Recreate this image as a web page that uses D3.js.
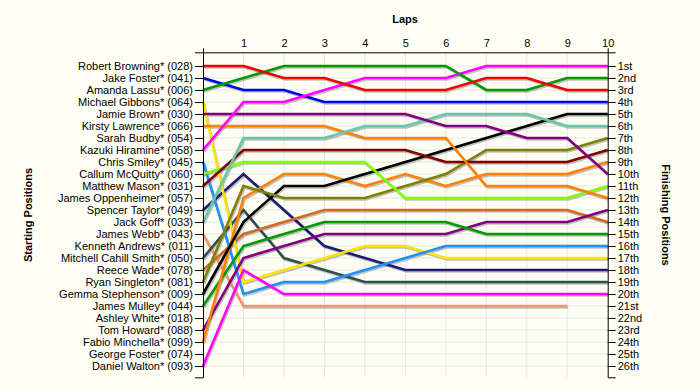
<!DOCTYPE html>
<html>
<head>
<meta charset="utf-8">
<script src="https://cdn.jsdelivr.net/npm/d3@7"></script>
<style>
    body { margin: 0; background: #fefef4; }
    svg { display: block; font-family: "Liberation Sans", Arial, sans-serif; }
</style>
</head>
<body>
<svg id="chart" width="700" height="390"></svg>
<script>
"use strict";

// starting grid, top to bottom
let drivers = [
    "Robert Browning* (028)", "Jake Foster* (041)", "Amanda Lassu* (006)",
    "Michael Gibbons* (064)", "Jamie Brown* (030)", "Kirsty Lawrence* (066)",
    "Sarah Budby* (054)", "Kazuki Hiramine* (058)", "Chris Smiley* (045)",
    "Callum McQuitty* (060)", "Matthew Mason* (031)", "James Oppenheimer* (057)",
    "Spencer Taylor* (049)", "Jack Goff* (033)", "James Webb* (043)",
    "Kenneth Andrews* (011)", "Mitchell Cahill Smith* (050)", "Reece Wade* (078)",
    "Ryan Singleton* (081)", "Gemma Stephenson* (009)", "James Mulley* (044)",
    "Ashley White* (018)", "Tom Howard* (088)", "Fabio Minchella* (099)",
    "George Foster* (074)", "Daniel Walton* (093)"
];

let finishLabels = [
    "1st", "2nd", "3rd", "4th", "5th", "6th", "7th", "8th", "9th", "10th",
    "11th", "12th", "13th", "14th", "15th", "16th", "17th", "18th", "19th", "20th",
    "21st", "22nd", "23rd", "24th", "25th", "26th"
];

let laps = [1, 2, 3, 4, 5, 6, 7, 8, 9, 10];

// position at lap 0 (grid) .. lap 10
let browning  = [1, 1, 2, 2, 3, 3, 3, 2, 2, 3, 3];
let jfoster   = [2, 3, 3, 4, 4, 4, 4, 4, 4, 4, 4];
let lassu     = [3, 2, 1, 1, 1, 1, 1, 3, 3, 2, 2];
let gibbons   = [4, 19, 18, 17, 16, 16, 17, 17, 17, 17, 17];
let brown     = [5, 5, 5, 5, 5, 5, 6, 6, 7, 7, 10];
let lawrence  = [6, 6, 6, 6, 7, 7, 7, 11, 11, 11, 12];
let hiramine  = [8, 4, 4, 3, 2, 2, 2, 1, 1, 1, 1];
let smiley    = [9, 20, 19, 19, 18, 17, 16, 16, 16, 16, 16];
let mcquitty  = [10, 9, 9, 9, 9, 12, 12, 12, 12, 12, 11];
let mason     = [11, 8, 8, 8, 8, 8, 9, 9, 9, 9, 8];
let taylor    = [13, 10, 13, 16, 17, 18, 18, 18, 18, 18, 18];
let goff      = [14, 7, 7, 7, 6, 6, 5, 5, 5, 6, 6];
let webb      = [15, 21, 21, 21, 21, 21, 21, 21, 21, 21];
let cahill    = [17, 13, 17, 18, 19, 19, 19, 19, 19, 19, 19];
let wade      = [18, 15, 14, 13, 13, 13, 13, 13, 13, 13, 14];
let singleton = [19, 11, 12, 12, 12, 11, 10, 8, 8, 8, 7];
let stephenson = [20, 14, 11, 11, 10, 9, 8, 7, 6, 5, 5];
let mulley    = [21, 16, 15, 14, 14, 14, 14, 15, 15, 15, 15];
let howard    = [23, 17, 16, 15, 15, 15, 15, 14, 14, 14, 13];
let minchella = [24, 12, 10, 10, 11, 10, 11, 10, 10, 10, 9];
let walton    = [26, 18, 20, 20, 20, 20, 20, 20, 20, 20, 20];

let series = [webb, cahill, taylor, wade, gibbons, smiley, walton, howard, mulley,
    minchella, stephenson, singleton, mcquitty, mason, lawrence, goff, brown,
    jfoster, hiramine, lassu, browning];
let seriesColors = ["#f4946e", "#2f4f4f", "#1c1c72", "#d2691e", "#ffe400", "#1e90ff",
    "#ff00ff", "#800080", "#009a00", "#ff8000", "#000000", "#808000", "#80ff00",
    "#800000", "#ff8000", "#66c8a8", "#800080", "#0000f0", "#ff00ff", "#009a00", "#f00000"];


let svg = d3.select("#chart");

let x = d3.scaleLinear().domain([0, 10]).range([203, 607.7]);
let y = d3.scaleLinear().domain([-0.14, 26.94]).range([52.3, 377.3]);

// grid
let grid = svg.append("g").attr("stroke", "#e6e6e6").attr("stroke-width", 1);
grid.selectAll("line.h")
    .data(d3.range(1, 27))
    .enter().append("line")
        .attr("class", "h")
        .attr("x1", x(0)).attr("x2", x(10))
        .attr("y1", function(d) { return y(d); })
        .attr("y2", function(d) { return y(d); });
grid.selectAll("line.v")
    .data(laps.slice(0, 9))
    .enter().append("line")
        .attr("class", "v")
        .attr("x1", function(d) { return x(d); })
        .attr("x2", function(d) { return x(d); })
        .attr("y1", y.range()[0]).attr("y2", y.range()[1]);

// lines, each with a soft grey shadow
let line = d3.line()
    .x(function(d, i) { return x(i); })
    .y(function(d) { return y(d); });

let lines = svg.append("g").attr("fill", "none");
lines.selectAll("path.shadow")
    .data(series)
    .enter().append("path")
        .attr("class", "shadow")
        .attr("d", line)
        .attr("transform", "translate(1,1.5)")
        .attr("stroke", "#777")
        .attr("stroke-opacity", 0.45)
        .attr("stroke-width", 2.6);
lines.selectAll("path.pos")
    .data(series)
    .enter().append("path")
        .attr("class", "pos")
        .attr("d", line)
        .attr("stroke", function(d, i) { return seriesColors[i]; })
        .attr("stroke-width", 2.6);

// axes
let rows = d3.range(1, 27);

let lapAxis = svg.append("g")
    .attr("transform", "translate(0," + y.range()[0] + ")")
    .call(d3.axisTop(x).tickValues(laps).tickSizeInner(0).tickSizeOuter(4).tickPadding(5));

let startAxis = svg.append("g")
    .attr("transform", "translate(" + x(0) + ",0)")
    .call(d3.axisLeft(y).tickValues(rows).tickSize(8).tickPadding(2)
        .tickFormat(function(d) { return drivers[d - 1]; }));

let finishAxis = svg.append("g")
    .attr("transform", "translate(" + x(10) + ",0)")
    .call(d3.axisRight(y).tickValues(rows).tickSize(8).tickPadding(2)
        .tickFormat(function(d) { return finishLabels[d - 1]; }));

[lapAxis, startAxis, finishAxis].forEach(function(g) {
    g.selectAll("text")
        .style("font-size", "11px")
        .style("font-family", "'Liberation Sans', Arial, sans-serif")
        .attr("fill", "#000");
    g.selectAll("path, line").attr("stroke", "#000");
});

// titles
svg.append("text")
    .attr("x", 405).attr("y", 23)
    .attr("text-anchor", "middle")
    .style("font-size", "11px").style("font-weight", "bold")
    .text("Laps");

svg.append("text")
    .attr("transform", "translate(32,215) rotate(-90)")
    .attr("text-anchor", "middle")
    .style("font-size", "11px").style("font-weight", "bold")
    .text("Starting Positions");

svg.append("text")
    .attr("transform", "translate(662,215) rotate(90)")
    .attr("text-anchor", "middle")
    .style("font-size", "11px").style("font-weight", "bold")
    .text("Finishing Positions");
</script>
</body>
</html>
